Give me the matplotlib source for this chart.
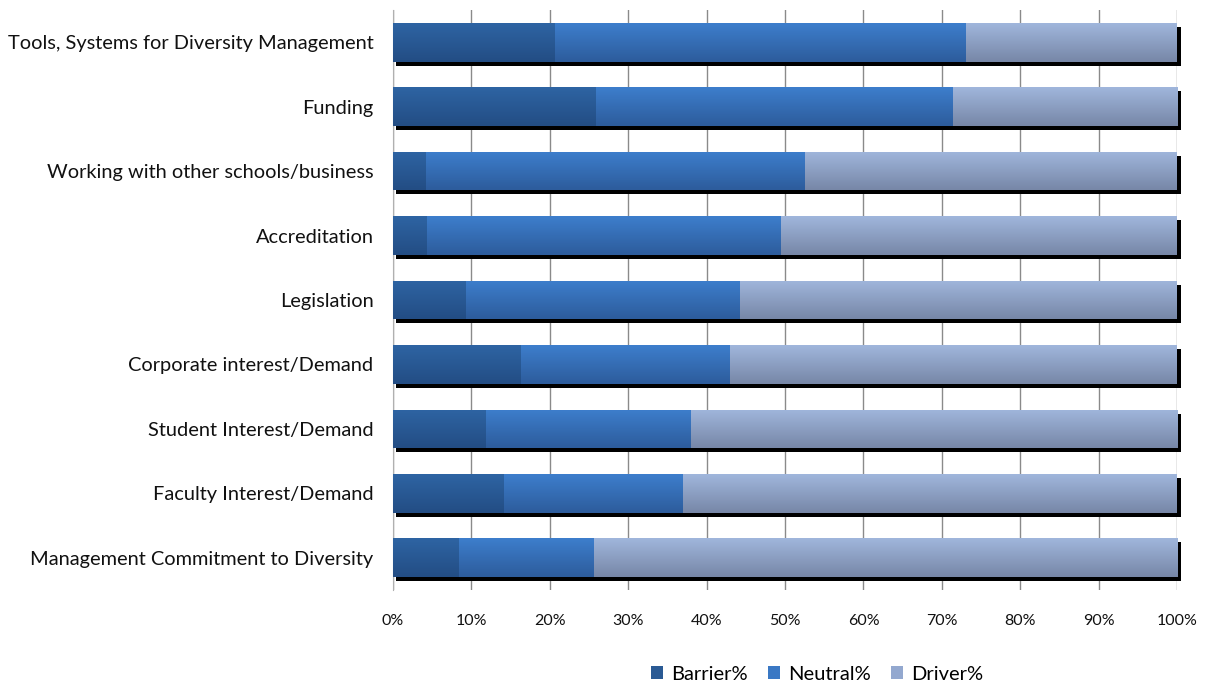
import numpy as np
import matplotlib
matplotlib.use("Agg")
import matplotlib.pyplot as plt
import matplotlib.transforms as mtransforms
from matplotlib.colors import LinearSegmentedColormap
from matplotlib.patches import Patch

categories = [
    "Tools, Systems for Diversity Management",
    "Funding",
    "Working with other schools/business",
    "Accreditation",
    "Legislation",
    "Corporate interest/Demand",
    "Student Interest/Demand",
    "Faculty Interest/Demand",
    "Management Commitment to Diversity",
]
barrier = [20.7, 25.9, 4.2, 4.3, 9.3, 16.3, 11.9, 14.2, 8.4]
neutral = [52.4, 45.5, 48.4, 45.2, 35.0, 26.7, 26.1, 22.8, 17.2]
driver = [26.9, 28.6, 47.4, 50.5, 55.7, 57.0, 62.0, 63.0, 74.4]
series_names = ["Barrier%", "Neutral%", "Driver%"]
tick_labels = ["0%", "10%", "20%", "30%", "40%", "50%", "60%", "70%", "80%", "90%", "100%"]

plt.rcParams['font.family'] = ['Lato', 'DejaVu Sans']

fig = plt.figure(figsize=(12.07, 6.84), dpi=100)
ax = fig.add_axes([0.3256, 0.1374, 0.6496, 0.848])

colors_top = ["#2E64A3", "#3D7ECC", "#A0B6DC"]
colors_bot = ["#234D84", "#2D5C9C", "#7787A7"]
legend_colors = ["#2A5A94", "#3A78C4", "#93A8CF"]

y = np.arange(len(categories))
h = 0.6
totals = np.array(barrier) + np.array(neutral) + np.array(driver)

# shadow
shadow_tr = ax.transData + mtransforms.ScaledTranslation(3.5 / 100, -4 / 100, fig.dpi_scale_trans)
ax.barh(y, totals, height=h, color="black", transform=shadow_tr, zorder=2, clip_on=False)

lefts = np.zeros(len(categories))
for i, vals in enumerate([barrier, neutral, driver]):
    bars = ax.barh(y, vals, left=lefts, height=h, color=legend_colors[i], zorder=3)
    cmap = LinearSegmentedColormap.from_list("g%d" % i, [colors_top[i], colors_bot[i]])
    grad = np.linspace(0, 1, 64).reshape(-1, 1)
    for p in bars.patches:
        x0, y0 = p.get_x(), p.get_y()
        x1, y1 = x0 + p.get_width(), y0 + p.get_height()
        im = ax.imshow(grad, extent=[x0, x1, y1, y0], origin="upper", aspect="auto",
                       cmap=cmap, zorder=4, interpolation="bilinear")
        im.set_clip_path(p)
    lefts = lefts + np.array(vals)

ax.set_xlim(0, 100)
ax.set_ylim(len(categories) - 0.5, -0.5)
ax.set_xticks(np.arange(0, 101, 10))
ax.set_xticklabels(tick_labels, fontsize=11.5, color="#111111")
ax.set_yticks(y)
ax.set_yticklabels(categories, fontsize=14.4, color="#111111")
ax.tick_params(axis="x", length=0, pad=17)
ax.tick_params(axis="y", length=0, pad=14)
ax.grid(axis="x", color="#8a8a8a", linewidth=1, zorder=0)
ax.set_axisbelow(True)
for s in ["top", "right", "bottom"]:
    ax.spines[s].set_visible(False)
ax.spines["left"].set_color("#b0b0b0")
ax.spines["left"].set_zorder(1)

handles = [Patch(facecolor=legend_colors[i], label=series_names[i]) for i in range(3)]
fig.legend(handles=handles, loc="center", bbox_to_anchor=(817 / 1207, 1 - 674 / 684),
           ncol=3, frameon=False, fontsize=14.5, handlelength=0.6, handleheight=0.6,
           handletextpad=0.4, columnspacing=1.0)

fig.savefig("out.png", dpi=100)
